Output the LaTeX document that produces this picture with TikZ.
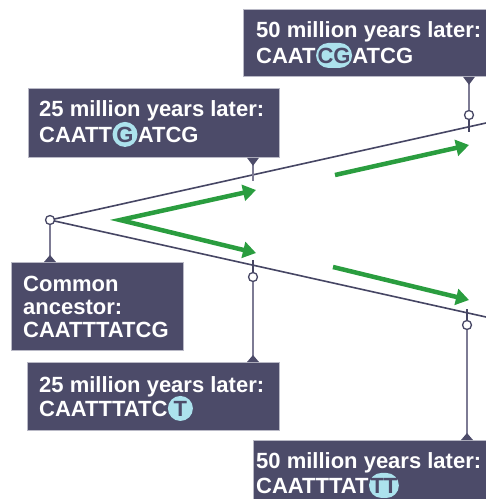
\documentclass[tikz,border=0pt]{standalone}
\usepackage{fontspec}
\setmainfont{Liberation Sans}
\usetikzlibrary{arrows.meta}
\definecolor{boxc}{RGB}{76,75,105}
\definecolor{linec}{RGB}{70,70,100}
\definecolor{stemc}{RGB}{125,123,148}
\definecolor{hlc}{RGB}{172,226,237}
\definecolor{grn}{RGB}{42,157,63}
\definecolor{boxedge}{RGB}{185,185,198}
\tikzset{
  panel/.style={rectangle, fill=boxc, draw=boxedge, line width=0.8pt, anchor=north west, inner sep=0pt},
  lbl/.style={text=white, font=\bfseries\fontsize{22}{24}\selectfont, inner sep=0pt, anchor=base west},
  hl/.style={fill=hlc, text=boxc, font=\bfseries\fontsize{22}{24}\selectfont, rounded corners=12.5pt,
     minimum height=25pt, minimum width=25pt, inner xsep=1.5pt, inner ysep=0pt, anchor=base west},
  mainline/.style={draw=linec, line width=1.6pt},
  stem/.style={draw=stemc, line width=1.5pt},
  tick/.style={draw=linec, line width=1.5pt},
  dot/.style={circle, draw=linec, fill=white, line width=1.3pt, minimum size=9pt, inner sep=0pt},
  garrow/.style={draw=grn, line width=4.5pt, line join=miter, -{Triangle[length=13pt,width=16pt]}},
  ptr/.style={fill=boxc}
}
\begin{document}
\begin{tikzpicture}[x=1pt,y=-1pt]
\useasboundingbox (0,0) rectangle (486,499);
\fill[white] (0,0) rectangle (486,499);
% coordinates
\coordinate (A) at (50,220);
\coordinate (upEnd) at (486,123);
\coordinate (loEnd) at (486,317);
\coordinate (U2c) at (469,115);
\coordinate (L1c) at (253,277);
\coordinate (L2c) at (467,325);
% main lines
\draw[mainline] (A) -- (upEnd);
\draw[mainline] (A) -- (loEnd);
% boxes
\node[panel, minimum width=251pt, minimum height=69pt] (bu25) at (28,88) {};
\node[panel, minimum width=250pt, minimum height=67pt] (bu50) at (243,9) {};
\node[panel, minimum width=172pt, minimum height=88pt] (banc) at (11,262) {};
\node[panel, minimum width=252pt, minimum height=68pt] (bl25) at (27,362) {};
\node[panel, minimum width=240pt, minimum height=70pt] (bl50) at (253,440) {};
% stems and ticks
\coordinate (tu1) at (253,181);
\draw[stem] (bu25.south -| tu1) -- (tu1);
\node[dot] (du50) at (U2c) {};
\coordinate (tu2) at (469,132);
\draw[stem] (bu50.south -| du50) -- (du50.north);
\draw[tick] (du50.south) -- (tu2);
\node[dot] (anc) at (A) {};
\draw[stem] (anc.south) -- (anc |- banc.north);
\node[dot] (dl25) at (L1c) {};
\coordinate (tl1) at (253,260);
\draw[tick] (tl1) -- (dl25.north);
\draw[stem] (dl25.south) -- (dl25 |- bl25.north);
\node[dot] (dl50) at (L2c) {};
\coordinate (tl2) at (467,309);
\draw[tick] (tl2) -- (dl50.north);
\draw[stem] (dl50.south) -- (dl50 |- bl50.north);
% pointers
\fill[ptr] ([xshift=-6pt]bu25.south -| tu1) -- ([xshift=6pt]bu25.south -| tu1) -- ([yshift=-8pt]bu25.south -| tu1) -- cycle;
\fill[ptr] ([xshift=-6pt]bu50.south -| du50) -- ([xshift=6pt]bu50.south -| du50) -- ([yshift=-8pt]bu50.south -| du50) -- cycle;
\fill[ptr] ([xshift=-6pt]banc.north -| anc) -- ([xshift=6pt]banc.north -| anc) -- ([yshift=7pt]banc.north -| anc) -- cycle;
\fill[ptr] ([xshift=-6pt]bl25.north -| dl25) -- ([xshift=6pt]bl25.north -| dl25) -- ([yshift=7pt]bl25.north -| dl25) -- cycle;
\fill[ptr] ([xshift=-6pt]bl50.north -| dl50) -- ([xshift=6pt]bl50.north -| dl50) -- ([yshift=7pt]bl50.north -| dl50) -- cycle;
% green arrows
\coordinate (gv) at (120,220);
\coordinate (gvu) at (256,190);
\coordinate (gvl) at (256,253);
\coordinate (gus) at (335,175);
\coordinate (gue) at (469,145);
\coordinate (gls) at (333,267);
\coordinate (gle) at (469,300);
\draw[garrow, {Triangle[length=13pt,width=16pt]}-{Triangle[length=13pt,width=16pt]}] (gvu) -- (gv) -- (gvl);
\draw[garrow] (gus) -- (gue);
\draw[garrow] (gls) -- (gle);
% texts
\node[lbl] (u25a) at (39,116) {25 million years later:};
\node[lbl] (u25b) at (39,142) {CAATT};
\node[hl] (u25h) at (u25b.base east) {G};
\node[lbl] (u25c) at (u25h.base east) {ATCG};
\node[lbl] (u50a) at (256,37) {50 million years later:};
\node[lbl] (u50b) at (256,63) {CAAT};
\node[hl] (u50h) at (u50b.base east) {CG};
\node[lbl] (u50c) at (u50h.base east) {ATCG};
\node[lbl] (anca) at (23,291) {Common};
\node[lbl] (ancb) at (23,314) {ancestor:};
\node[lbl] (ancc) at (23,337) {CAATTTATCG};
\node[lbl] (l25a) at (39,392) {25 million years later:};
\node[lbl] (l25b) at (39,416) {CAATTTATC};
\node[hl] (l25h) at (l25b.base east) {T};
\node[lbl] (l50a) at (256,468) {50 million years later:};
\node[lbl] (l50b) at (256,493) {CAATTTAT};
\node[hl] (l50h) at (l50b.base east) {TT};
\end{tikzpicture}
\end{document}
